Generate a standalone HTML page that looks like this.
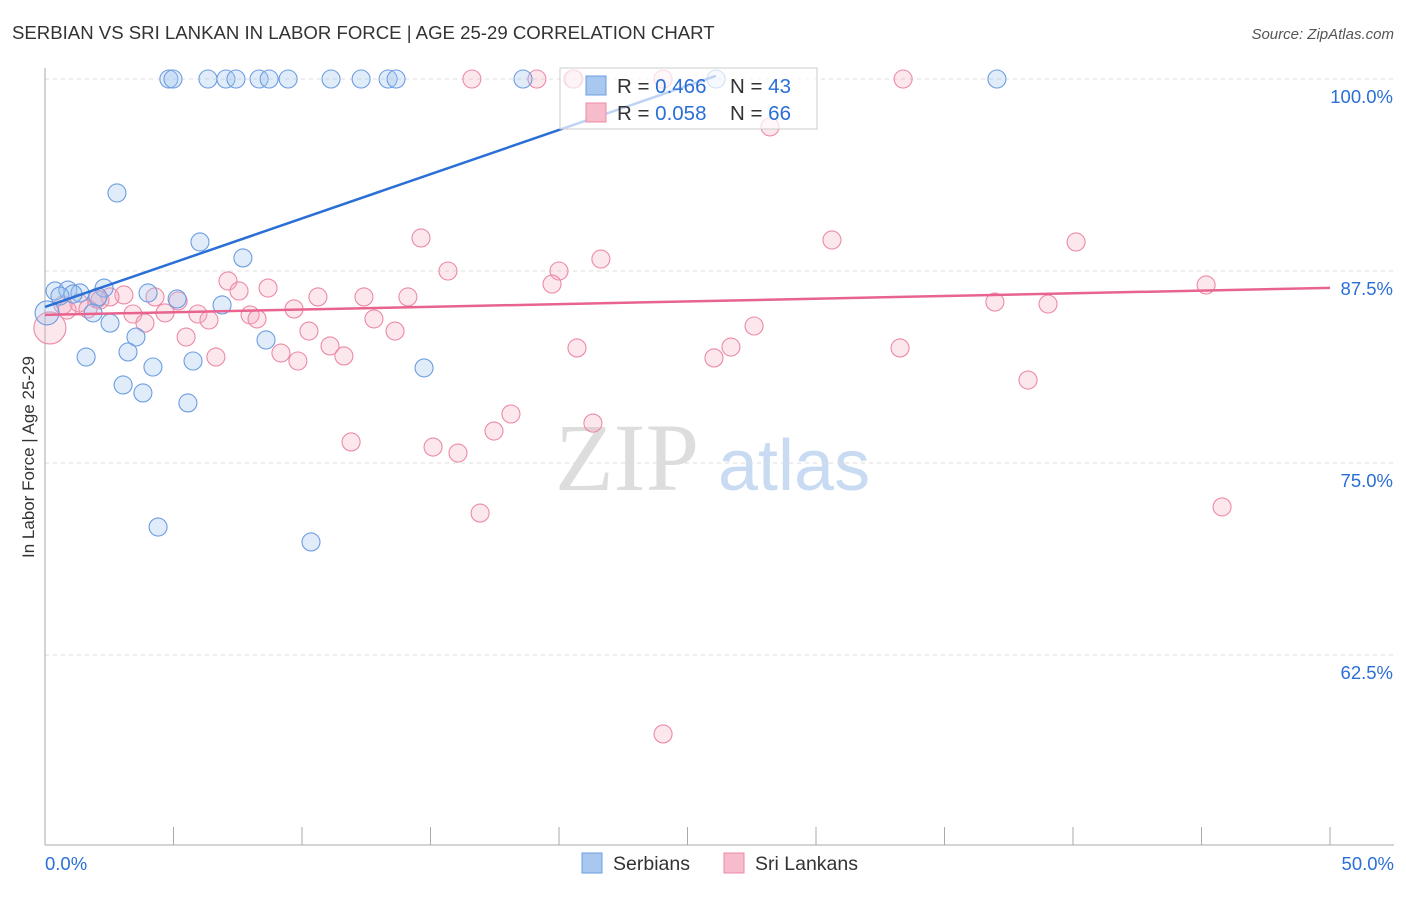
<!DOCTYPE html>
<html><head><meta charset="utf-8"><style>
body{margin:0;background:#fff;font-family:"Liberation Sans",sans-serif;}
</style></head><body>
<svg id="chart" width="1406" height="892" xmlns="http://www.w3.org/2000/svg" style="font-family:'Liberation Sans',sans-serif">
<text x="12" y="39" font-size="18.6" fill="#333">SERBIAN VS SRI LANKAN IN LABOR FORCE | AGE 25-29 CORRELATION CHART</text>
<text x="1394" y="39" font-size="15" fill="#555" text-anchor="end" font-style="italic">Source: ZipAtlas.com</text>
<text transform="translate(34,457) rotate(-90)" font-size="17" fill="#333" text-anchor="middle">In Labor Force | Age 25-29</text>
<text x="555" y="490" font-size="96" fill="#ddd" font-family="Liberation Serif,serif">ZIP</text>
<text x="718" y="490" font-size="72" fill="#c9dbf2">atlas</text>
<g id="grid"></g><g id="axes"></g><g id="marks"></g>
<g>
<rect x="560" y="68" width="257" height="61" fill="#fff" fill-opacity="0.7" stroke="#ccc"/>
<rect x="586" y="76" width="20" height="19" fill="#a9c8f0" stroke="#6d9de0"/>
<rect x="586" y="103" width="20" height="19" fill="#f7bccb" stroke="#ec8aa6"/>
<text x="617" y="93" font-size="20.5" fill="#333">R = <tspan fill="#2a6fd6">0.466</tspan></text>
<text x="730" y="93" font-size="20.5" fill="#333">N = <tspan fill="#2a6fd6">43</tspan></text>
<text x="617" y="120" font-size="20.5" fill="#333">R = <tspan fill="#2a6fd6">0.058</tspan></text>
<text x="730" y="120" font-size="20.5" fill="#333">N = <tspan fill="#2a6fd6">66</tspan></text>
</g>
<g>
<rect x="582" y="853" width="20" height="20" fill="#a9c8f0" stroke="#6d9de0"/>
<text x="613" y="870" font-size="19.5" fill="#333">Serbians</text>
<rect x="724" y="853" width="20" height="20" fill="#f7bccb" stroke="#ec8aa6"/>
<text x="755" y="870" font-size="19.5" fill="#333">Sri Lankans</text>
</g>
</svg>
<script>
const yTicks=[100,87.5,75,62.5];
const yTickLabels=["100.0%","87.5%","75.0%","62.5%"];
const xTicks=[0,5,10,15,20,25,30,35,40,45,50];
const serbX=[4.82,4.98,6.34,7.04,7.43,8.33,8.72,9.46,11.13,12.30,13.35,13.66,18.6,26.11,37.04,2.80,6.03,7.70,0.39,0.89,1.36,2.30,1.09,0.58,4.01,5.14,2.06,6.89,0.08,1.87,2.53,3.54,8.60,1.60,3.23,5.76,4.20,14.75,3.04,3.81,5.56,4.40,10.35];
const serbY=[100,100,100,100,100,100,100,100,100,100,100,100,100,100,100,92.58,89.39,88.35,86.2,86.26,86.07,86.39,86.0,85.87,86.07,85.68,85.81,85.29,84.77,84.77,84.11,83.2,83.01,81.9,82.23,81.64,81.25,81.19,80.08,79.56,78.91,70.83,69.86];
const sriX=[16.61,19.14,20.54,24.05,33.39,28.21,14.63,30.62,40.12,15.68,20.0,21.63,7.12,19.73,45.18,7.55,8.68,3.07,4.28,2.53,10.62,12.41,14.12,5.18,2.02,1.32,0.70,9.69,36.96,39.03,3.42,4.67,5.95,7.98,8.25,12.80,6.38,3.89,27.59,10.27,13.62,5.49,11.09,20.70,26.69,33.27,9.18,11.63,26.03,6.65,9.84,38.25,18.13,17.47,21.32,11.91,15.10,16.07,16.93,45.80,24.05,0.19,0.86,1.67,2.14,20.58];
const sriY=[100,100,100,100,100,96.88,89.65,89.52,89.39,87.5,87.5,88.28,86.85,86.65,86.59,86.2,86.39,85.94,85.81,85.81,85.81,85.81,85.81,85.55,85.68,85.42,85.29,85.03,85.48,85.35,84.7,84.77,84.7,84.64,84.38,84.38,84.31,84.11,83.92,83.59,83.59,83.2,82.62,82.49,82.55,82.49,82.16,81.97,81.84,81.9,81.64,80.4,78.19,77.08,77.6,76.37,76.04,75.65,71.74,72.14,57.36,83.79,84.96,85.03,85.61,100];
const serbTrend=[85.16,100.2]; const serbTrendX=[0,26.1];
const sriTrend=[84.64,86.4]; const sriTrendX=[0,50];
const NS="http://www.w3.org/2000/svg";
const sx=v=>45+v*25.7, sy=v=>79+(100-v)*15.36;
function mk(t,a,p){const e=document.createElementNS(NS,t);for(const k in a)e.setAttribute(k,a[k]);document.getElementById(p).appendChild(e);return e;}
yTicks.forEach((t,i)=>{
 const l=mk('line',{x1:45,x2:1394,y1:sy(t),y2:sy(t),stroke:'#ddd','stroke-dasharray':'4,4'},'grid');
 
 
 const tx=mk('text',{x:1393,y:sy(t)+24,'font-size':18.5,fill:'#2a6fd6','text-anchor':'end'},'axes');
 tx.textContent=yTickLabels[i];
 
 
});
const ya=mk('line',{x1:45,x2:45,y1:68,y2:845,stroke:'#aaa'},'axes');


const xa=mk('line',{x1:45,x2:1394,y1:845,y2:845,stroke:'#aaa'},'axes');


xTicks.forEach(t=>{const l=mk('line',{x1:sx(t),x2:sx(t),y1:827,y2:845,stroke:'#aaa'},'axes');
 
 });
const x0=mk('text',{x:45,y:870,'font-size':18.5,fill:'#2a6fd6'},'axes');x0.textContent='0.0%';


const x1=mk('text',{x:1394,y:870,'font-size':18.5,fill:'#2a6fd6','text-anchor':'end'},'axes');x1.textContent='50.0%';


sriX.forEach((x,i)=>{const r=(i==61)?16:9;const c=mk('circle',{cx:sx(x),cy:sy(sriY[i]),r:r,fill:'rgba(245,170,192,0.28)',stroke:'#ec8aa6','stroke-width':1.1},'marks');
 
 });
serbX.forEach((x,i)=>{const r=(i==28)?12:9;const c=mk('circle',{cx:sx(x),cy:sy(serbY[i]),r:r,fill:'rgba(160,196,240,0.32)',stroke:'#6d9de0','stroke-width':1.1},'marks');
 
 });
const tb=mk('line',{x1:sx(serbTrendX[0]),y1:sy(serbTrend[0]),x2:sx(serbTrendX[1]),y2:sy(serbTrend[1]),stroke:'#2a6fd6','stroke-width':2.5},'marks');


const tp=mk('line',{x1:sx(sriTrendX[0]),y1:sy(sriTrend[0]),x2:sx(sriTrendX[1]),y2:sy(sriTrend[1]),stroke:'#e8648f','stroke-width':2.5},'marks');


</script>
</body></html>
